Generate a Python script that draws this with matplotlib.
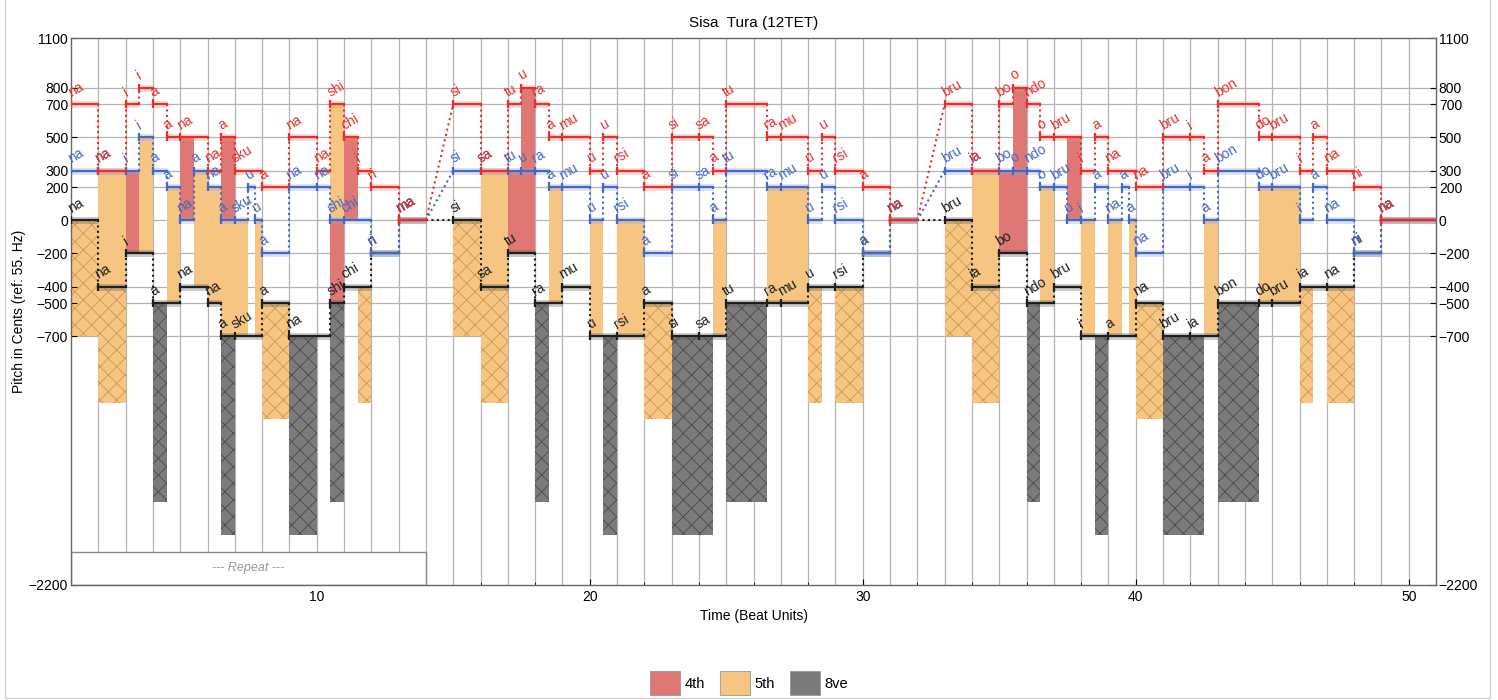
import matplotlib.pyplot as plt
from matplotlib.patches import Patch, Rectangle
import numpy as np

plt.rcParams['font.family'] = ['Liberation Sans', 'DejaVu Sans']
plt.rcParams['hatch.linewidth'] = 0.6

# --- voice data: onset (beats), duration (beats), pitch (cents re 55 Hz), syllable ---
red_onset = [1, 2, 3, 3.5, 4, 4.5, 5, 6, 6.5, 7, 8, 9, 10, 10.5, 11, 11.5, 12, 13,
             15, 16, 17, 17.5, 18, 18.5, 19, 20, 20.5, 21, 22, 23, 24, 24.5, 25, 26.5, 27, 28, 28.5, 29, 30, 31,
             33, 34, 35, 35.5, 36, 36.5, 37, 38, 38.5, 39, 40, 41, 42, 42.5, 43, 44.5, 45, 46, 46.5, 47, 48, 49]
red_dur = [1, 1, .5, .5, .5, .5, 1, .5, .5, 1, 1, 1, .5, .5, .5, .5, 1, 1,
           1, 1, .5, .5, .5, .5, 1, .5, .5, 1, 1, 1, .5, .5, 1.5, .5, 1, .5, .5, 1, 1, 1,
           1, 1, .5, .5, .5, .5, 1, .5, .5, 1, 1, 1, .5, .5, 1.5, .5, 1, .5, .5, 1, 1, 2]
red_cents = [700, 300, 700, 800, 700, 500, 500, 300, 500, 300, 200, 500, 300, 700, 500, 300, 200, 0,
             700, 300, 700, 800, 700, 500, 500, 300, 500, 300, 200, 500, 500, 300, 700, 500, 500, 300, 500, 300, 200, 0,
             700, 300, 700, 800, 700, 500, 500, 300, 500, 300, 200, 500, 500, 300, 700, 500, 500, 300, 500, 300, 200, 0]
red_syl = ['na', 'na', 'i', 'i', 'a', 'a', 'na', 'na', 'a', 'sku', 'a', 'na', 'na', 'shi', 'chi', 'i', 'ri', 'ma',
           'si', 'sa', 'tu', 'u', 'ra', 'a', 'mu', 'u', 'u', 'rsi', 'a', 'si', 'sa', 'a', 'tu', 'ra', 'mu', 'u', 'u',
           'rsi', 'a', 'na',
           'bru', 'ia', 'bo', 'o', 'ndo', 'o', 'bru', 'i', 'a', 'na', 'na', 'bru', 'i', 'a', 'bon', 'do', 'bru',
           'i', 'a', 'na', 'ni', 'na']

blue_onset = [1, 2, 3, 3.5, 4, 4.5, 5, 5.5, 6, 6.5, 7, 7.5, 7.75, 8, 9, 10, 10.5, 11, 12, 13,
              15, 16, 17, 17.5, 18, 18.5, 19, 20, 20.5, 21, 22, 23, 24, 24.5, 25, 26.5, 27, 28, 28.5, 29, 30, 31,
              33, 34, 35, 35.5, 36, 36.5, 37, 37.5, 38, 38.5, 39, 39.5, 39.75, 40, 41, 42, 42.5, 43, 44.5, 45, 46,
              46.5, 47, 48, 49]
blue_dur = [1, 1, .5, .5, .5, .5, .5, .5, .5, .5, .5, .25, .25, 1, 1, .5, .5, 1, 1, 1,
            1, 1, .5, .5, .5, .5, 1, .5, .5, 1, 1, 1, .5, .5, 1.5, .5, 1, .5, .5, 1, 1, 1,
            1, 1, .5, .5, .5, .5, .5, .5, .5, .5, .5, .25, .25, 1, 1, .5, .5, 1.5, .5, 1, .5,
            .5, 1, 1, 2]
blue_cents = [300, 300, 300, 500, 300, 200, 0, 300, 200, 0, 0, 200, 0, -200, 200, 200, 0, 0, -200, 0,
              300, 300, 300, 300, 300, 200, 200, 0, 200, 0, -200, 200, 200, 0, 300, 200, 200, 0, 200, 0, -200, 0,
              300, 300, 300, 300, 300, 200, 200, 0, 0, 200, 0, 200, 0, -200, 200, 200, 0, 300, 200, 200, 0,
              200, 0, -200, 0]
blue_syl = ['na', 'na', 'i', 'i', 'a', 'a', 'na', 'a', 'na', 'a', 'sku', 'u', 'u', 'a', 'na', 'na', 'shi', 'chi',
            'ri', 'ma',
            'si', 'sa', 'tu', 'u', 'ra', 'a', 'mu', 'u', 'u', 'rsi', 'a', 'si', 'sa', 'a', 'tu', 'ra', 'mu', 'u', 'u',
            'rsi', 'a', 'na',
            'bru', 'ia', 'bo', 'o', 'ndo', 'o', 'bru', 'u', 'i', 'a', 'na', 'a', 'a', 'na', 'bru', 'i', 'a', 'bon',
            'do', 'bru', 'i', 'a', 'na', 'ni', 'na']

black_onset = [1, 2, 3, 4, 5, 6, 6.5, 7, 8, 9, 10.5, 11, 12, 13,
               15, 16, 17, 18, 19, 20, 21, 22, 23, 24, 25, 26.5, 27, 28, 29, 30, 31,
               33, 34, 35, 36, 37, 38, 39, 40, 41, 42, 43, 44.5, 45, 46, 47, 48, 49]
black_dur = [1, 1, 1, 1, 1, .5, .5, 1, 1, 1.5, .5, 1, 1, 1,
             1, 1, 1, 1, 1, 1, 1, 1, 1, 1, 1.5, .5, 1, 1, 1, 1, 1,
             1, 1, 1, 1, 1, 1, 1, 1, 1, 1, 1.5, .5, 1, 1, 1, 1, 2]
black_cents = [0, -400, -200, -500, -400, -500, -700, -700, -500, -700, -500, -400, -200, 0,
               0, -400, -200, -500, -400, -700, -700, -500, -700, -700, -500, -500, -500, -400, -400, -200, 0,
               0, -400, -200, -500, -400, -700, -700, -500, -700, -700, -500, -500, -500, -400, -400, -200, 0]
black_syl = ['na', 'na', 'i', 'a', 'na', 'na', 'a', 'sku', 'a', 'na', 'shi', 'chi', 'ri', 'ma',
             'si', 'sa', 'tu', 'ra', 'mu', 'u', 'rsi', 'a', 'si', 'sa', 'tu', 'ra', 'mu', 'u', 'rsi', 'a', 'na',
             'bru', 'ia', 'bo', 'ndo', 'bru', 'i', 'a', 'na', 'bru', 'ia', 'bon', 'do', 'bru', 'ia', 'na', 'ni', 'na']

y_ticks = [-2200, -700, -500, -400, -200, 0, 200, 300, 500, 700, 800, 1100]
interval_names = ['4th', '5th', '8ve']
interval_cents = [500, 700, 1200]
interval_colors = ['#df7874', '#f6c582', '#7b7b7b']
hatch_colors = ['#a8403c', '#cf9650', '#4a4a4a']

repeat_end = 14

RED, BLUE, BLACK = '#ea2f2a', '#4468c4', '#1e1e1e'


def value_at(onsets, durs, cents, t):
    for o, d, c in zip(onsets, durs, cents):
        if o <= t < o + d:
            return c
    return None


def draw_voice(ax, onsets, durs, cents, syls, color, halo):
    ends = [o + d for o, d in zip(onsets, durs)]
    for i, (o, e, c, s) in enumerate(zip(onsets, ends, cents, syls)):
        ax.plot([o, e], [c, c], color=halo, lw=5, alpha=0.3, solid_capstyle='butt', zorder=3)
        ax.plot([o, e], [c, c], color=color, lw=1.6, zorder=4)
        ax.plot([o], [c], marker='|', ms=6, mew=1.6, color=color, zorder=4)
        ax.text(o + 0.06, c + 30, s, rotation=30, rotation_mode='anchor', ha='left', va='bottom',
                fontsize=10, color=color, zorder=6)
        if i + 1 < len(onsets):
            nxt_o, nxt_c = onsets[i + 1], cents[i + 1]
            if nxt_o != e or nxt_c != c:
                ax.plot([e, nxt_o], [c, nxt_c], color=color, lw=1.5, ls=(0, (1, 1.6)), zorder=4)


fig = plt.figure(figsize=(14.98, 7.0), dpi=100)
ax = fig.add_axes([71 / 1498, 1 - 585 / 700, (1436 - 71) / 1498, (585 - 38) / 700])
ax.set_xlim(1, 51)
ax.set_ylim(-2200, 1100)

# grid
for x in range(2, 51):
    ax.axvline(x, color='#b4b4b4', lw=0.9, zorder=0)
for y in y_ticks[1:-1]:
    ax.axhline(y, color='#b4b4b4', lw=0.9, zorder=0)

# interval shading: solid between neighbouring voices, hatched (outer voices) hung below the low voice
all_onsets = red_onset + blue_onset + black_onset
all_ends = [o + d for o, d in zip(red_onset, red_dur)] + \
           [o + d for o, d in zip(blue_onset, blue_dur)] + \
           [o + d for o, d in zip(black_onset, black_dur)]
bounds = sorted(set(all_onsets + all_ends))
for a, b in zip(bounds[:-1], bounds[1:]):
    m = (a + b) / 2
    r = value_at(red_onset, red_dur, red_cents, m)
    bl = value_at(blue_onset, blue_dur, blue_cents, m)
    k = value_at(black_onset, black_dur, black_cents, m)
    if r is None or bl is None or k is None:
        continue
    for lo, hi in [(bl, r), (k, bl)]:
        iv = hi - lo
        if iv in interval_cents:
            j = interval_cents.index(iv)
            ax.bar(a, iv, width=b - a, bottom=lo, align='edge', color=interval_colors[j],
                   lw=0, zorder=1)
    iv = r - k
    if iv in interval_cents:
        j = interval_cents.index(iv)
        ax.bar(a, iv, width=b - a, bottom=k - iv, align='edge', color=interval_colors[j],
               edgecolor=hatch_colors[j], hatch='xx', lw=0, zorder=1)

# repeat box
ax.add_patch(Rectangle((1, -2200), repeat_end - 1, 200, facecolor='white', edgecolor='#8a8a8a',
                       lw=1.0, zorder=2))
ax.text((1 + repeat_end) / 2, -2100, '--- Repeat ---', style='italic', color='#9a9a9a',
        fontsize=9, ha='center', va='center', zorder=3)

draw_voice(ax, black_onset, black_dur, black_cents, black_syl, BLACK, '#555555')
draw_voice(ax, blue_onset, blue_dur, blue_cents, blue_syl, BLUE, '#8fa5dc')
draw_voice(ax, red_onset, red_dur, red_cents, red_syl, RED, '#f08a86')

ax.set_yticks(y_ticks)
ax.set_yticklabels([str(v).replace('-', '\u2212') for v in y_ticks])
ax.set_xticks([10, 20, 30, 40, 50])
ax.set_xticks(np.arange(2, 51, 2), minor=True)
ax.tick_params(axis='y', which='both', right=True, labelright=True, direction='in',
               labelsize=10, length=4, pad=2)
ax.tick_params(axis='x', which='both', direction='in', labelsize=10, length=4)
ax.tick_params(axis='x', which='minor', length=2.5)
for sp in ax.spines.values():
    sp.set_color('#666666')
    sp.set_linewidth(1.0)

ax.set_title('Sisa  Tura (12TET)', fontsize=11, pad=8)
ax.set_xlabel('Time (Beat Units)', fontsize=10)
ax.set_ylabel('Pitch in Cents (ref: 55. Hz)', fontsize=10, labelpad=2)

handles = [Patch(facecolor=c, edgecolor='#999999', lw=0.6, label=n)
           for c, n in zip(interval_colors, interval_names)]
fig.legend(handles=handles, loc='center', bbox_to_anchor=(0.5, 1 - 683 / 700), ncol=3,
           frameon=False, fontsize=10.5, handlelength=2.1, handleheight=2.1,
           handletextpad=0.3, columnspacing=1.0)

fig.add_artist(Rectangle((5 / 1498, 2 / 700), 1485 / 1498, 0.999, transform=fig.transFigure,
                         fill=False, edgecolor='#d4d4d4', lw=1))

fig.savefig('out.png', dpi=100)
